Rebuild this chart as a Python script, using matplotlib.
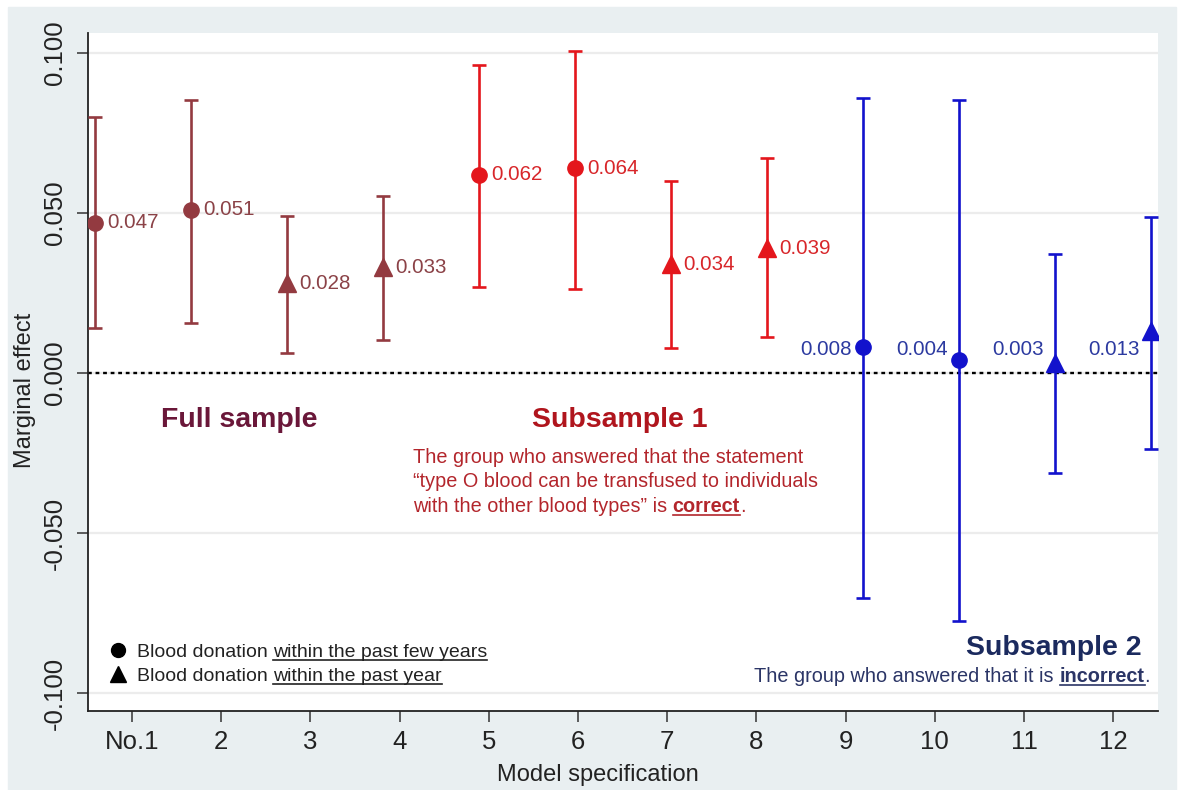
import numpy as np
import matplotlib
matplotlib.use('Agg')
import matplotlib.pyplot as plt
from matplotlib.patches import Rectangle
from matplotlib.lines import Line2D

plt.rcParams['font.family'] = ['Liberation Sans', 'DejaVu Sans']

# Data.
models = ['No.1', '2', '3', '4', '5', '6', '7', '8', '9', '10', '11', '12']
effects = [0.047, 0.051, 0.028, 0.033, 0.062, 0.064, 0.034, 0.039,
           0.008, 0.004, 0.003, 0.013]
ci_low = [0.0140, 0.0155, 0.0063, 0.0103, 0.0269, 0.0263, 0.0078, 0.0113,
          -0.0703, -0.0775, -0.0312, -0.0238]
ci_high = [0.0800, 0.0853, 0.0490, 0.0553, 0.0963, 0.1006, 0.0600, 0.0672,
           0.0859, 0.0853, 0.0372, 0.0488]
samples = ['full'] * 4 + ['sub1'] * 4 + ['sub2'] * 4
measures = ['few', 'few', 'year', 'year'] * 3
y_ticks = [-0.100, -0.050, 0.000, 0.050, 0.100]

W, H = 1182, 790
bar_colors = {'full': '#933a40', 'sub1': '#e4161c', 'sub2': '#1212cc'}
label_colors = {'full': '#8b4247', 'sub1': '#d8262a', 'sub2': '#2c3aa0'}
marker_of = {'few': 'o', 'year': '^'}

fig = plt.figure(figsize=(W / 100, H / 100), dpi=100, facecolor='white')
fig.patches.append(Rectangle((8 / W, 0), (1176 - 8) / W, (H - 7) / H,
                             transform=fig.transFigure, color='#e9eff1', zorder=-5))

ax = fig.add_axes([88 / W, 1 - 711 / H, (1158 - 88) / W, (711 - 33) / H])
ax.set_facecolor('white')

x = np.arange(1, len(models) + 1)
for i in range(len(models)):
    s = samples[i]
    ax.errorbar(x[i], effects[i],
                yerr=[[effects[i] - ci_low[i]], [ci_high[i] - effects[i]]],
                fmt=marker_of[measures[i]], color=bar_colors[s],
                ms=11 if measures[i] == 'few' else 12.5,
                elinewidth=1.9, capsize=5, capthick=1.9, zorder=3)
    if s == 'sub2':
        ax.annotate('%.3f' % effects[i], xy=(x[i], 0.0072), xytext=(-8.5, 0),
                    textcoords='offset points', ha='right', va='center',
                    fontsize=14.8, color=label_colors[s], zorder=4)
    else:
        ax.annotate('%.3f' % effects[i], xy=(x[i], effects[i]), xytext=(8.5, 0),
                    textcoords='offset points', ha='left', va='center',
                    fontsize=14.8, color=label_colors[s], zorder=4)

ax.axhline(0, color='black', lw=1.7, ls=(0, (1.6, 1.6)), zorder=2)

ax.set_xlim(0.927, 12.07)
ax.set_ylim(-0.1056, 0.10625)
ax.set_xticks(np.linspace(1.385, 11.604, len(models)))
ax.set_xticklabels(models)
ax.set_yticks(y_ticks)
ax.set_yticklabels(['%.3f' % v for v in y_ticks])
for lab in ax.get_yticklabels():
    lab.set_rotation(90)
    lab.set_va('center')
ax.yaxis.grid(True, color='#ececec', lw=1.6, zorder=0)
ax.set_axisbelow(True)
ax.tick_params(axis='both', length=8, width=1.1, color='#333333',
               labelsize=18.5, labelcolor='#222222')
ax.tick_params(axis='y', pad=7)
ax.tick_params(axis='x', pad=6)
for side in ['top', 'right']:
    ax.spines[side].set_visible(False)
for side in ['left', 'bottom']:
    ax.spines[side].set_linewidth(1.3)
    ax.spines[side].set_color('#222222')

fig.text(25 / W, 1 - 390 / H, 'Marginal effect', rotation=90, ha='center',
         va='center', fontsize=17, color='#222222')
fig.text(598 / W, 1 - 775 / H, 'Model specification', ha='center',
         va='center', fontsize=17, color='#222222')

renderer = fig.canvas.get_renderer()


def text_width(s, size, bold):
    # width in pixels, spaces included (measured between two bars)
    weight = 'bold' if bold else 'normal'
    t = fig.text(0, 0, '|' + s + '|', fontsize=size, fontweight=weight)
    t2 = fig.text(0, 0, '||', fontsize=size, fontweight=weight)
    w = t.get_window_extent(renderer).width - t2.get_window_extent(renderer).width
    t.remove()
    t2.remove()
    return w


def rich_line(x_px, base_px, pieces, size, color, ha='left'):
    # pieces: (text, bold, underline); base_px is baseline from the top
    widths = [text_width(p[0], size, p[1]) for p in pieces]
    total = sum(widths)
    cur = x_px if ha == 'left' else x_px - total
    for (s, bold, under), w in zip(pieces, widths):
        core = s.strip()
        lead = text_width(s[:len(s) - len(s.lstrip())], size, bold) if s != s.lstrip() else 0
        x0 = cur + lead
        fig.text(x0 / W, 1 - base_px / H, core, fontsize=size, color=color,
                 fontweight='bold' if bold else 'normal', va='baseline', ha='left')
        if under:
            cw = text_width(core, size, bold)
            fig.add_artist(Line2D([x0 / W, (x0 + cw) / W],
                                  [1 - (base_px + 3) / H] * 2, color=color,
                                  lw=1.2, transform=fig.transFigure))
        cur += w


# Group titles.
fig.text(239 / W, 1 - 427 / H, 'Full sample', ha='center', va='baseline',
         fontsize=20.5, fontweight='bold', color='#6a1739')
fig.text(620 / W, 1 - 427 / H, 'Subsample 1', ha='center', va='baseline',
         fontsize=20.5, fontweight='bold', color='#b0151d')
fig.text(1142 / W, 1 - 655 / H, 'Subsample 2', ha='right', va='baseline',
         fontsize=20.5, fontweight='bold', color='#1b2a5e')

sub1_color = '#b3262c'
rich_line(413, 463, [('The group who answered that the statement', False, False)],
          14.3, sub1_color)
rich_line(413, 487, [('\u201ctype O blood can be transfused to individuals', False, False)],
          14.3, sub1_color)
rich_line(413, 512, [('with the other blood types\u201d is ', False, False),
                     ('correct', True, True), ('.', False, False)],
          14.3, sub1_color)
rich_line(1150, 682, [('The group who answered that it is ', False, False),
                      ('incorrect', True, True), ('.', False, False)],
          14.3, '#2b3566', ha='right')

# Marker legend.
fig.add_artist(Line2D([118 / W], [1 - 650 / H], marker='o', ms=10, color='black',
                      transform=fig.transFigure))
fig.add_artist(Line2D([118 / W], [1 - 674 / H], marker='^', ms=11, color='black',
                      transform=fig.transFigure))
rich_line(137, 657, [('Blood donation ', False, False),
                     ('within the past few years', False, True)], 14, '#222222')
rich_line(137, 681, [('Blood donation ', False, False),
                     ('within the past year', False, True)], 14, '#222222')

fig.savefig('out.png', dpi=100, facecolor='white')
